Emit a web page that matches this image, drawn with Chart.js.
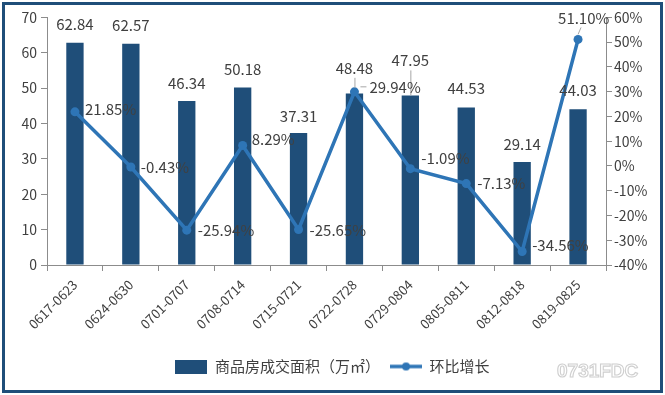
<!DOCTYPE html>
<html lang="zh">
<head>
<meta charset="UTF-8">
<title>商品房成交面积</title>
<script src="https://cdn.jsdelivr.net/npm/chart.js"></script>
<style>
    body { margin: 0; background: #fff; }
    .frame { position: absolute; left: 2px; top: 2px; width: 661px; height: 391px; box-sizing: border-box; border: 3px solid #1F4E79; background: #fff; }
    canvas { display: block; }
</style>
</head>
<body>
<div class="frame">
    <canvas id="chart" width="655" height="385"></canvas>
</div>
<script>
    const weeks = ['0617-0623', '0624-0630', '0701-0707', '0708-0714', '0715-0721',
                   '0722-0728', '0729-0804', '0805-0811', '0812-0818', '0819-0825'];
    const area = [62.84, 62.57, 46.34, 50.18, 37.31, 48.48, 47.95, 44.53, 29.14, 44.03];
    const growth = [21.85, -0.43, -25.94, 8.29, -25.65, 29.94, -1.09, -7.13, -34.56, 51.10];
    const leftTicks = [0, 10, 20, 30, 40, 50, 60, 70];
    const rightTicks = [-40, -30, -20, -10, 0, 10, 20, 30, 40, 50, 60];

    const FONT = '"Noto Sans CJK SC", "Noto Sans", sans-serif';
    const TEXT = '#404040';
    const AXIS = '#8c8c8c';
    const BAR = '#1F4E79';
    const LINE = '#2E75B6';

    // legend swatches
    function swatch(kind) {
        const c = document.createElement('canvas');
        c.width = 32; c.height = 14;
        const g = c.getContext('2d');
        if (kind === 'bar') {
            g.fillStyle = BAR;
            g.fillRect(0, 0, 32, 14);
        } else {
            g.strokeStyle = LINE; g.lineWidth = 3.5;
            g.beginPath(); g.moveTo(0, 7); g.lineTo(32, 7); g.stroke();
            g.fillStyle = LINE;
            g.beginPath(); g.arc(16, 7, 4, 0, Math.PI * 2); g.fill();
        }
        return c;
    }

    // label nudges (pixels) for readability, like the hand-moved labels in the original
    const barLabelLift = [18, 18, 18, 18, 17, 25, 35, 19, 18, 19];
    const lineLabelShift = [[10, -3], [10, 0], [11, 0], [9, -6], [11, 1], [15, -5], [11, -10], [11, 0], [10, -6], [-20, -21]];

    const labelPlugin = {
        id: 'labels',
        afterDatasetsDraw(chart) {
            const ctx = chart.ctx;
            ctx.save();
            ctx.font = '15px ' + FONT;
            ctx.fillStyle = TEXT;
            ctx.textBaseline = 'middle';

            const bars = chart.getDatasetMeta(0).data;
            ctx.textAlign = 'center';
            bars.forEach((b, i) => {
                const y = b.y - barLabelLift[i];
                ctx.fillText(area[i].toFixed(2), b.x, y);
                if (barLabelLift[i] > 30) {
                    ctx.strokeStyle = '#a6a6a6'; ctx.lineWidth = 1;
                    ctx.beginPath(); ctx.moveTo(b.x + 0.5, y + 10); ctx.lineTo(b.x + 0.5, b.y); ctx.stroke();
                }
            });

            const pts = chart.getDatasetMeta(1).data;
            ctx.textAlign = 'left';
            pts.forEach((p, i) => {
                const [dx, dy] = lineLabelShift[i];
                ctx.fillText(growth[i].toFixed(2) + '%', p.x + dx, p.y + dy);
            });
            // leader lines for moved labels
            ctx.strokeStyle = '#a6a6a6'; ctx.lineWidth = 1;
            const p5 = pts[5];
            ctx.beginPath();
            ctx.moveTo(p5.x + 0.5, p5.y - 14); ctx.lineTo(p5.x + 0.5, p5.y - 4);
            ctx.moveTo(p5.x + 6, p5.y - 5); ctx.lineTo(p5.x + 12, p5.y - 5);
            const p9 = pts[9];
            ctx.moveTo(p9.x, p9.y - 5); ctx.lineTo(p9.x + 3, p9.y - 12);
            ctx.stroke();

            // watermark
            ctx.font = 'bold 19px "Liberation Sans", sans-serif';
            ctx.textAlign = 'left';
            ctx.lineWidth = 1.1;
            ctx.strokeStyle = '#cfcfcf';
            ctx.fillStyle = '#ffffff';
            ctx.fillText('0731FDC', 552, 367);
            ctx.strokeText('0731FDC', 552, 367);
            ctx.restore();
        }
    };

    const tickFont = { family: FONT, size: 14 };

    new Chart(document.getElementById('chart'), {
        data: {
            labels: weeks,
            datasets: [{
                type: 'bar',
                label: '商品房成交面积（万㎡）',
                data: area,
                backgroundColor: BAR,
                barPercentage: 0.31,
                categoryPercentage: 1,
                yAxisID: 'y',
                order: 1
            }, {
                type: 'line',
                label: '环比增长',
                data: growth,
                borderColor: LINE,
                backgroundColor: LINE,
                borderWidth: 3.5,
                pointRadius: 4.5,
                pointBackgroundColor: LINE,
                pointBorderWidth: 0,
                tension: 0,
                yAxisID: 'y1',
                order: 0
            }]
        },
        options: {
            responsive: false,
            animation: false,
            layout: { padding: { top: 11, left: 0, right: 0, bottom: 6 } },
            plugins: {
                tooltip: { enabled: false },
                legend: {
                    position: 'bottom',
                    labels: {
                        usePointStyle: true,
                        pointStyleWidth: 32,
                        padding: 10,
                        color: TEXT,
                        font: { family: FONT, size: 15 },
                        sort: (a, b) => a.datasetIndex - b.datasetIndex,
                        generateLabels: chart => chart.data.datasets.map((d, i) => ({
                            text: d.label,
                            datasetIndex: i,
                            fontColor: TEXT,
                            pointStyle: swatch(d.type),
                            lineWidth: 0,
                            hidden: false
                        }))
                    }
                }
            },
            scales: {
                x: {
                    grid: { display: true, drawOnChartArea: false, drawTicks: true, tickLength: 6, color: AXIS, offset: true },
                    border: { display: true, color: AXIS },
                    ticks: { color: TEXT, font: { family: FONT, size: 13 }, minRotation: 45, maxRotation: 45, padding: 6 },
                    afterFit: s => { s.height = 84; }
                },
                y: {
                    position: 'left',
                    min: 0, max: 70,
                    afterBuildTicks: s => { s.ticks = leftTicks.map(v => ({ value: v })); },
                    grid: { drawOnChartArea: false, drawTicks: true, tickLength: 6, color: AXIS },
                    border: { display: true, color: AXIS },
                    ticks: { color: TEXT, font: tickFont, padding: 4 },
                    afterFit: s => { s.width = 42; }
                },
                y1: {
                    position: 'right',
                    min: -40, max: 60,
                    afterBuildTicks: s => { s.ticks = rightTicks.map(v => ({ value: v })); },
                    grid: { drawOnChartArea: false, drawTicks: true, tickLength: 6, color: AXIS },
                    border: { display: true, color: AXIS },
                    ticks: { color: TEXT, font: tickFont, padding: 2, callback: v => v + '%' },
                    afterFit: s => { s.width = 54; }
                }
            }
        },
        plugins: [labelPlugin]
    });
</script>
</body>
</html>
